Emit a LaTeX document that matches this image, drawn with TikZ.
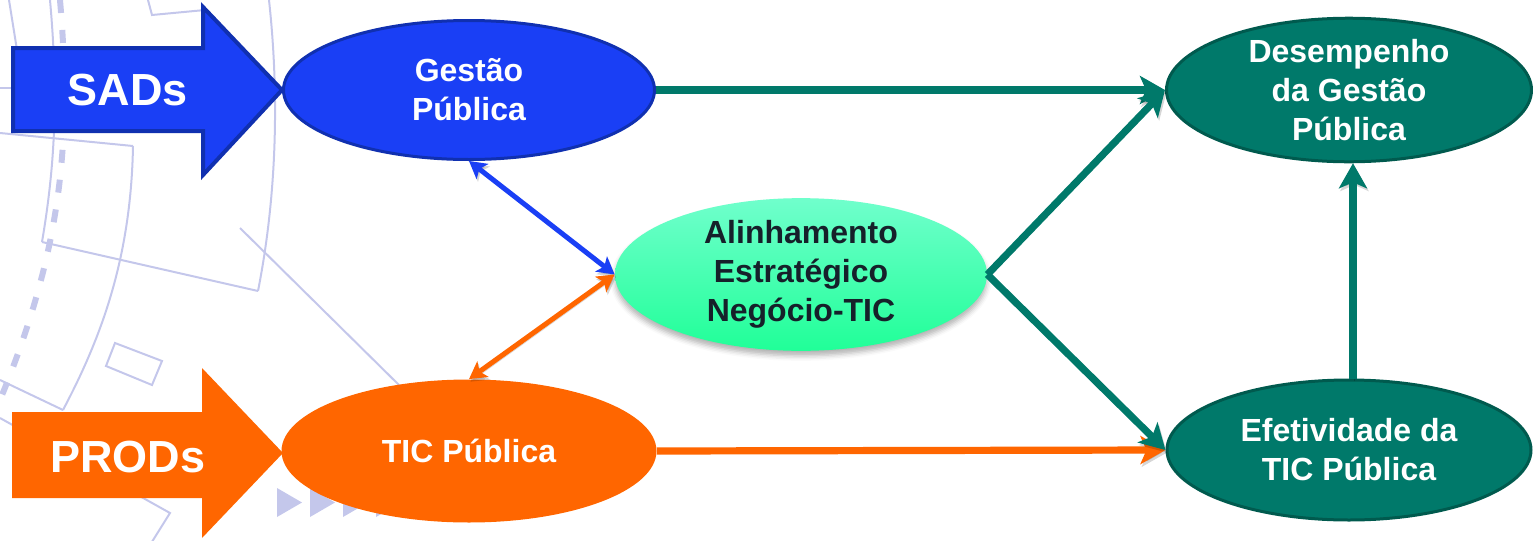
\documentclass[tikz,border=0pt]{standalone}
\usepackage{fontspec}
\setmainfont{Liberation Sans}
\usetikzlibrary{arrows.meta,shapes.geometric,shadows.blur}
\definecolor{sadblue}{HTML}{1A3FF5}
\definecolor{sadedge}{HTML}{1030B0}
\definecolor{prodorange}{HTML}{FF6600}
\definecolor{tealfill}{HTML}{00796A}
\definecolor{tealedge}{HTML}{005A4E}
\definecolor{mintTop}{HTML}{70FFCC}
\definecolor{mintBot}{HTML}{20FF98}
\definecolor{inkdark}{HTML}{16202A}
\definecolor{bgline}{HTML}{C4C7EB}
\begin{document}
\begin{tikzpicture}[x=0.5pt,y=-0.5pt,
  bgstroke/.style={draw=bgline, line width=1pt},
  ell/.style={ellipse, inner sep=0pt, align=center,
    font=\fontsize{16pt}{19.5pt}\selectfont\bfseries},
  bigtext/.style={font=\fontsize{22.5pt}{26pt}\selectfont\bfseries, text=white, inner sep=0pt},
  lshadow/.style={preaction={draw=black, opacity=0.16, transform canvas={shift={(0.7pt,-1.3pt)}}}},
  tealarrow/.style={draw=tealfill, line width=3.6pt, lshadow,
    -{Stealth[length=12.5pt,width=14pt,inset=3pt]}},
  orangearrow/.style={draw=prodorange, line width=3.6pt, lshadow,
    -{Stealth[length=12.5pt,width=14pt,inset=3pt]}},
  bluedbl/.style={draw=sadblue, line width=2.5pt, lshadow,
    {Stealth[length=8.5pt,width=9.5pt,inset=2pt]}-{Stealth[length=8.5pt,width=9.5pt,inset=2pt]}},
  orangedbl/.style={draw=prodorange, line width=2.5pt, lshadow,
    {Stealth[length=8.5pt,width=9.5pt,inset=2pt]}-{Stealth[length=8.5pt,width=9.5pt,inset=2pt]}},
]
\useasboundingbox (0,0) rectangle (1533,541);

% ---------- faint background decoration ----------
\draw[bgstroke] (9,0) -- (17,50);
\draw[bgstroke] (50,0) .. controls (58,90) and (56,160) .. (42,242);
\draw[bgstroke] (42,242) -- (258,291);
\draw[bgstroke] (269,0) .. controls (281,110) and (274,210) .. (258,291);
\draw[bgstroke] (0,133) -- (133,146);
\draw[bgstroke] (133,146) .. controls (131,260) and (100,340) .. (63,410);
\draw[bgstroke] (0,380) -- (63,410);
\draw[bgstroke] (0,418) -- (170,513) -- (150,545);
\draw[bgstroke] (115,343) -- (162,361) -- (152,385) -- (106,366) -- cycle;
\draw[bgstroke] (240,228) -- (400,386);
\draw[bgstroke] (148,0) -- (152,15) -- (205,10);
\draw[bgstroke] (0,88) -- (15,88);
\draw[draw=bgline, line width=3pt, dash pattern=on 6.5pt off 8.5pt]
  (60,0) .. controls (72,140) and (62,250) .. (0,400);
\foreach \tx in {277,310,343,376}
  \fill[bgline] (\tx,488) -- (\tx+25,502.5) -- (\tx,517) -- cycle;

% ---------- input block arrows ----------
\draw[fill=sadblue, draw=sadedge, line width=2pt, line join=miter]
  (13,48) -- (203,48) -- (203,7) -- (282,90) -- (203,175) -- (203,131) -- (13,131) -- cycle;
\node[bigtext] (sads) at (128,90) {SADs};

\fill[prodorange]
  (12,412) -- (202,412) -- (202,368) -- (283,453) -- (202,538) -- (202,498) -- (12,498) -- cycle;
\node[bigtext] (prods) at (128,457) {PRODs};

% ---------- ellipses ----------
\node[ell, fill=sadblue, draw=sadedge, line width=1.5pt, text=white,
  minimum width=185.5pt, minimum height=69.5pt] (gp) at (469,90) {Gestão\\Pública};

\node[ell, fill=prodorange, text=white,
  minimum width=187.5pt, minimum height=71.5pt] (tic) at (469,451) {TIC Pública};

\node[ell, top color=mintTop, bottom color=mintBot, text=inkdark,
  blur shadow={shadow xshift=0pt, shadow yshift=-2.5pt, shadow blur radius=2.5pt, shadow opacity=30},
  minimum width=186pt, minimum height=69.5pt] (al) at (801,274.5)
  {Alinhamento\\Estratégico\\Negócio-TIC};

\node[ell, fill=tealfill, draw=tealedge, line width=1.5pt, text=white,
  minimum width=182.5pt, minimum height=70.5pt] (dg) at (1349,90)
  {Desempenho\\da Gestão\\Pública};

\node[ell, fill=tealfill, draw=tealedge, line width=1.5pt, text=white,
  minimum width=182pt, minimum height=70pt] (ef) at (1349,450)
  {Efetividade da\\TIC Pública};

% ---------- connectors ----------
\draw[tealarrow] (gp.east) -- (dg.west);
\draw[orangearrow] (tic.east) -- (ef.west);
\draw[tealarrow] (al.east) -- (dg.west);
\draw[tealarrow] (al.east) -- (ef.west);
\draw[tealarrow] ([xshift=2pt]ef.north) -- ([xshift=2pt]dg.south);
\draw[bluedbl] (gp.south) -- (al.west);
\draw[orangedbl] (tic.north) -- (al.west);
\end{tikzpicture}
\end{document}
